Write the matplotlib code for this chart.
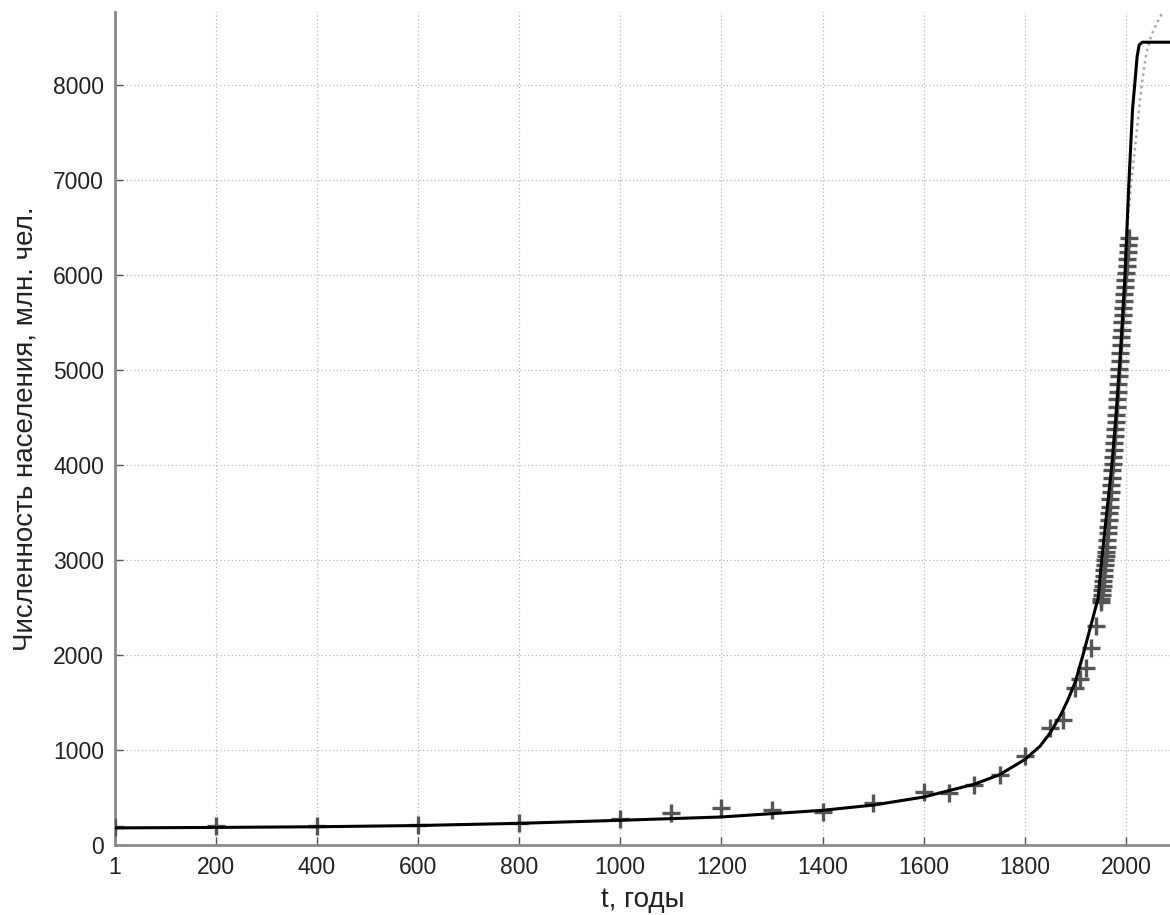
import matplotlib
matplotlib.use("Agg")
import matplotlib.pyplot as plt

plt.rcParams['font.family'] = ['Liberation Sans', 'DejaVu Sans']

# Observed population (crosses), millions
obs_years = [1, 200, 400, 600, 800, 1000, 1100, 1200, 1300, 1400, 1500, 1600, 1650,
             1700, 1750, 1800, 1850, 1875, 1900, 1910, 1920, 1930, 1940,
             1950, 1951, 1952, 1953, 1954, 1955, 1956, 1957, 1958, 1959,
             1960, 1961, 1962, 1963, 1964, 1965, 1966, 1967, 1968, 1969,
             1970, 1971, 1972, 1973, 1974, 1975, 1976, 1977, 1978, 1979,
             1980, 1981, 1982, 1983, 1984, 1985, 1986, 1987, 1988, 1989,
             1990, 1991, 1992, 1993, 1994, 1995, 1996, 1997, 1998, 1999,
             2000, 2001, 2002, 2003, 2004, 2005]
obs_pop = [190, 195, 200, 210, 230, 270, 340, 390, 370, 350, 440, 560, 550,
           630, 740, 940, 1230, 1320, 1650, 1750, 1860, 2070, 2300,
           2557, 2594, 2636, 2682, 2730, 2782, 2835, 2891, 2948, 3001,
           3043, 3084, 3140, 3210, 3281, 3350, 3421, 3490, 3562, 3637,
           3713, 3790, 3867, 3942, 4014, 4086, 4157, 4229, 4302, 4376,
           4452, 4530, 4609, 4690, 4770, 4851, 4932, 5015, 5099, 5183,
           5265, 5346, 5425, 5503, 5579, 5654, 5729, 5803, 5877, 5951,
           6024, 6097, 6170, 6243, 6316, 6390]

# Model curve (black line)
model_years = [1, 200, 400, 600, 800, 1000, 1200, 1400, 1500, 1600, 1700, 1750,
               1800, 1830, 1850, 1870, 1885, 1900, 1915, 1930, 1945, 1952, 1960,
               1972, 1980, 1990, 1998, 2006, 2013, 2018, 2022, 2026, 2032, 2100]
model_pop = [180, 185, 192, 205, 228, 260, 295, 365, 420, 505, 640, 740,
             900, 1040, 1180, 1360, 1526, 1720, 2000, 2300, 2600, 3000, 3400,
             4000, 4500, 5250, 6000, 7000, 7750, 8050, 8300, 8420, 8450, 8450]

# Alternative model (grey dotted)
alt_years = [1996, 2002, 2008, 2014, 2020, 2025, 2030, 2035, 2040, 2050, 2060, 2070, 2080, 2090]
alt_pop = [6000, 6450, 6850, 7150, 7450, 7700, 7950, 8150, 8330, 8520, 8640, 8740, 8810, 8860]

xticks = [1, 200, 400, 600, 800, 1000, 1200, 1400, 1600, 1800, 2000]
yticks = [0, 1000, 2000, 3000, 4000, 5000, 6000, 7000, 8000]

fig = plt.figure(figsize=(11.70, 9.15), dpi=100)
ax = fig.add_axes([115/1170, 70/915, 1 - 115/1170, (845 - 12)/915])

ax.plot(obs_years, obs_pop, linestyle='none', marker='+', markersize=13,
        markeredgewidth=2.4, color='#555555', zorder=3)
ax.plot(alt_years, alt_pop, linestyle=(0, (1, 1.5)), color='#a8a8a8', lw=1.8, zorder=2)
ax.plot(model_years, model_pop, color='black', lw=2.2, zorder=4)

ax.set_xlim(1, 2087)
ax.set_ylim(0, 8768)
ax.set_xticks(xticks)
ax.set_xticklabels([str(v) for v in xticks])
ax.set_yticks(yticks)
ax.set_yticklabels([str(v) for v in yticks])

ax.grid(True, linestyle=(0, (1, 2)), color='#b8b8b8', lw=0.9)
ax.set_axisbelow(True)

for s in ['top', 'right']:
    ax.spines[s].set_visible(False)
for s in ['left', 'bottom']:
    ax.spines[s].set_color('#8a8a8a')
    ax.spines[s].set_linewidth(2)

ax.tick_params(direction='in', length=6, width=1, color='#555555',
               labelsize=16.5, labelcolor='#222222', pad=8)

ax.set_xlabel('t, годы', fontsize=20, color='#222222', labelpad=6)
ax.set_ylabel('Численность населения, млн. чел.', fontsize=20, color='#222222', labelpad=10)

fig.savefig('out.png', dpi=100)
